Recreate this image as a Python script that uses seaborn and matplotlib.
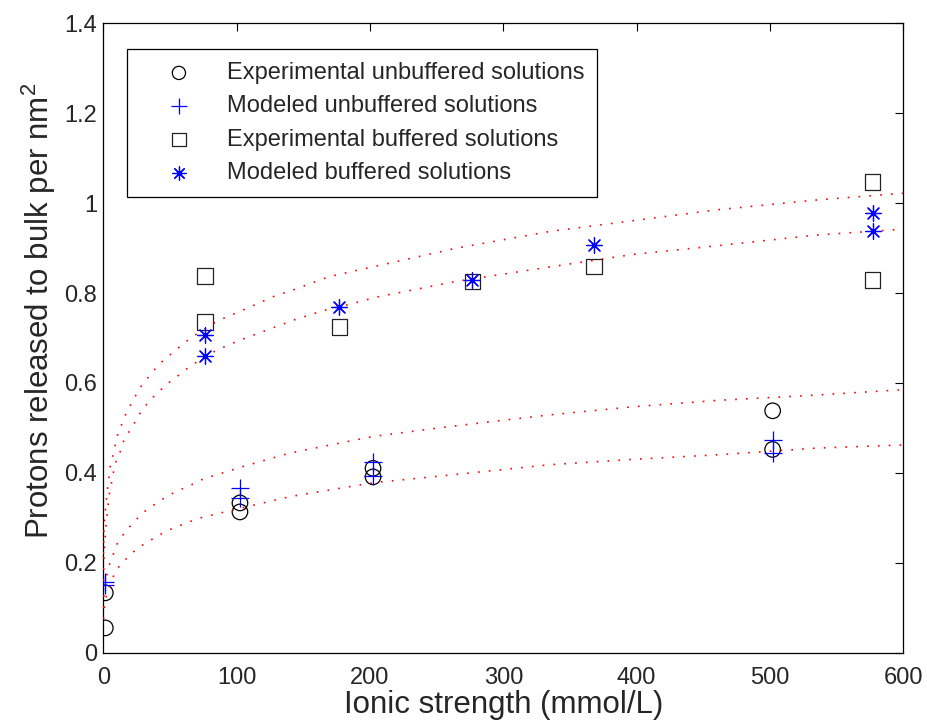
import matplotlib
matplotlib.use("Agg")
import matplotlib.pyplot as plt
import numpy as np
import pandas as pd
import seaborn as sns

# ---- measured points -------------------------------------------------------
exp_unbuf_x = [1.5, 1.5, 102.5, 102.5, 202.3, 202.3, 502.0, 502.0]
exp_unbuf_y = [0.055, 0.133, 0.333, 0.313, 0.410, 0.391, 0.538, 0.452]

mod_unbuf_x = [1.5, 1.5, 102.5, 102.5, 202.3, 202.3, 502.0, 502.0]
mod_unbuf_y = [0.158, 0.150, 0.366, 0.343, 0.423, 0.393, 0.473, 0.445]

exp_buf_x = [76.3, 76.3, 177.0, 276.8, 368.0, 577.0, 577.0]
exp_buf_y = [0.838, 0.735, 0.724, 0.826, 0.859, 1.047, 0.829]

mod_buf_x = [76.3, 76.3, 177.0, 276.8, 368.0, 577.0, 577.0]
mod_buf_y = [0.707, 0.659, 0.769, 0.829, 0.907, 0.978, 0.937]

# ---- fitted trend curves ---------------------------------------------------
fit_buf_hi_x = [0.1, 0.5, 1.0, 2.0, 3.0, 4.3, 5.3, 7.3, 9.0, 11.0, 14.0, 17.0,
                20.5, 24.5, 28.5, 33.0, 38.5, 44.0, 53.0, 65.5, 85.0, 106.3,
                127.5, 142.5, 170.0, 205.0, 265.0, 335.0, 397.5, 460.0, 535.0, 600.0]
fit_buf_hi_y = [0.220, 0.270, 0.295, 0.330, 0.360, 0.392, 0.416, 0.440, 0.463, 0.487,
                0.509, 0.531, 0.551, 0.573, 0.593, 0.610, 0.630, 0.647, 0.670, 0.700,
                0.737, 0.764, 0.792, 0.807, 0.837, 0.860, 0.900, 0.937, 0.961, 0.985,
                1.007, 1.022]

fit_buf_lo_x = [0.1, 0.5, 1.0, 2.0, 3.0, 4.8, 7.0, 8.0, 10.0, 13.3, 15.5, 20.0,
                24.3, 28.0, 32.5, 36.8, 41.5, 45.5, 53.0, 65.5, 85.0, 100.0, 121.3,
                143.0, 165.0, 187.5, 205.0, 265.0, 335.0, 397.5, 460.0, 535.0, 600.0]
fit_buf_lo_y = [0.160, 0.210, 0.240, 0.280, 0.310, 0.358, 0.390, 0.408, 0.430, 0.451,
                0.473, 0.495, 0.515, 0.535, 0.552, 0.567, 0.579, 0.592, 0.609, 0.638,
                0.673, 0.692, 0.716, 0.740, 0.761, 0.777, 0.791, 0.826, 0.858, 0.886,
                0.905, 0.929, 0.942]

fit_unbuf_hi_x = [0.1, 0.5, 1.0, 2.5, 4.3, 7.3, 10.0, 14.3, 19.3, 23.0, 31.0, 37.3,
                  43.5, 53.0, 67.3, 74.8, 102.5, 140.0, 202.5, 260.0, 335.0, 397.5,
                  460.0, 535.0, 600.0]
fit_unbuf_hi_y = [0.100, 0.130, 0.145, 0.171, 0.193, 0.217, 0.240, 0.260, 0.278, 0.291,
                  0.314, 0.327, 0.340, 0.356, 0.375, 0.386, 0.412, 0.444, 0.481, 0.503,
                  0.529, 0.547, 0.561, 0.573, 0.585]

fit_unbuf_lo_x = [0.1, 0.5, 1.5, 3.5, 7.3, 10.0, 15.0, 19.0, 23.0, 29.3, 36.0, 42.8,
                  49.3, 53.0, 60.3, 67.3, 74.3, 102.5, 140.0, 202.5, 260.0, 335.0,
                  397.5, 460.0, 535.0, 600.0]
fit_unbuf_lo_y = [0.075, 0.093, 0.115, 0.141, 0.168, 0.185, 0.202, 0.214, 0.225, 0.239,
                  0.251, 0.263, 0.273, 0.277, 0.286, 0.294, 0.301, 0.321, 0.347, 0.378,
                  0.395, 0.418, 0.430, 0.440, 0.455, 0.462]

x_ticks = [0, 100, 200, 300, 400, 500, 600]
y_ticks = [0, 0.2, 0.4, 0.6, 0.8, 1.0, 1.2, 1.4]
y_tick_labels = ["0", "0.2", "0.4", "0.6", "0.8", "1", "1.2", "1.4"]

labels = ["Experimental unbuffered solutions",
          "Modeled unbuffered solutions",
          "Experimental buffered solutions",
          "Modeled buffered solutions"]

# ---- styling ---------------------------------------------------------------
sns.set_style("white")
plt.rcParams["font.family"] = ["Liberation Sans", "DejaVu Sans"]
plt.rcParams["mathtext.fontset"] = "custom"
plt.rcParams["mathtext.rm"] = "Liberation Sans"
plt.rcParams["mathtext.it"] = "Liberation Sans"
plt.rcParams["mathtext.bf"] = "Liberation Sans:bold"

fig = plt.figure(figsize=(9.28, 7.22), dpi=100)
ax = fig.add_axes([0.1113, 0.0961, 0.8621, 0.8716])

# fitted curves
dotted = (0, (1, 5.5))
for cx, cy in [(fit_buf_hi_x, fit_buf_hi_y), (fit_buf_lo_x, fit_buf_lo_y),
               (fit_unbuf_hi_x, fit_unbuf_hi_y), (fit_unbuf_lo_x, fit_unbuf_lo_y)]:
    sns.lineplot(x=cx, y=cy, ax=ax, color="red", linewidth=1.2,
                 linestyle=dotted, sort=False, estimator=None, zorder=3)

ms = 125
sns.scatterplot(x=exp_unbuf_x, y=exp_unbuf_y, ax=ax, marker="o", s=ms,
                facecolor="none", edgecolor="black", linewidth=0.9,
                label=labels[0], zorder=2)
sns.scatterplot(x=mod_unbuf_x, y=mod_unbuf_y, ax=ax, marker="+", s=ms * 1.3,
                color="blue", linewidth=0.9, label=labels[1], zorder=4)
sns.scatterplot(x=exp_buf_x, y=exp_buf_y, ax=ax, marker="s", s=ms,
                facecolor="none", edgecolor="#222222", linewidth=0.9,
                label=labels[2], zorder=2)
sns.scatterplot(x=mod_buf_x, y=mod_buf_y, ax=ax, marker=(8, 2, 0), s=ms,
                color="blue", linewidth=0.9, label=labels[3], zorder=4)

ax.set_xlim(0, 600)
ax.set_ylim(0, 1.4)
ax.set_xticks(x_ticks)
ax.set_xticklabels([str(t) for t in x_ticks])
ax.set_yticks(y_ticks)
ax.set_yticklabels(y_tick_labels)

for side in ["left", "right", "top", "bottom"]:
    ax.spines[side].set_visible(True)
    ax.spines[side].set_color("black")
    ax.spines[side].set_linewidth(0.9)

ax.tick_params(axis="both", direction="in", length=6, width=0.8, color="black",
               top=True, right=True, labelsize=17)
ax.tick_params(axis="x", pad=10)
ax.tick_params(axis="y", pad=4.5)

ax.set_xlabel("Ionic strength (mmol/L)", fontsize=22.5)
ax.set_ylabel("Protons released to bulk per nm$^2$", fontsize=22.5)
ax.xaxis.set_label_coords(0.5, -0.1075)
ax.xaxis.label.set_va("bottom")
ax.yaxis.set_label_coords(-0.057, 0.543)

leg = ax.legend(loc="upper left", bbox_to_anchor=(0.0296, 0.959),
                borderaxespad=0, fontsize=17, frameon=True, fancybox=False,
                edgecolor="black", framealpha=1, handlelength=3.3,
                handletextpad=0.38, borderpad=0.55, labelspacing=0.48,
                markerscale=0.85)
leg.get_frame().set_linewidth(0.9)

fig.savefig("out.png", dpi=100)
